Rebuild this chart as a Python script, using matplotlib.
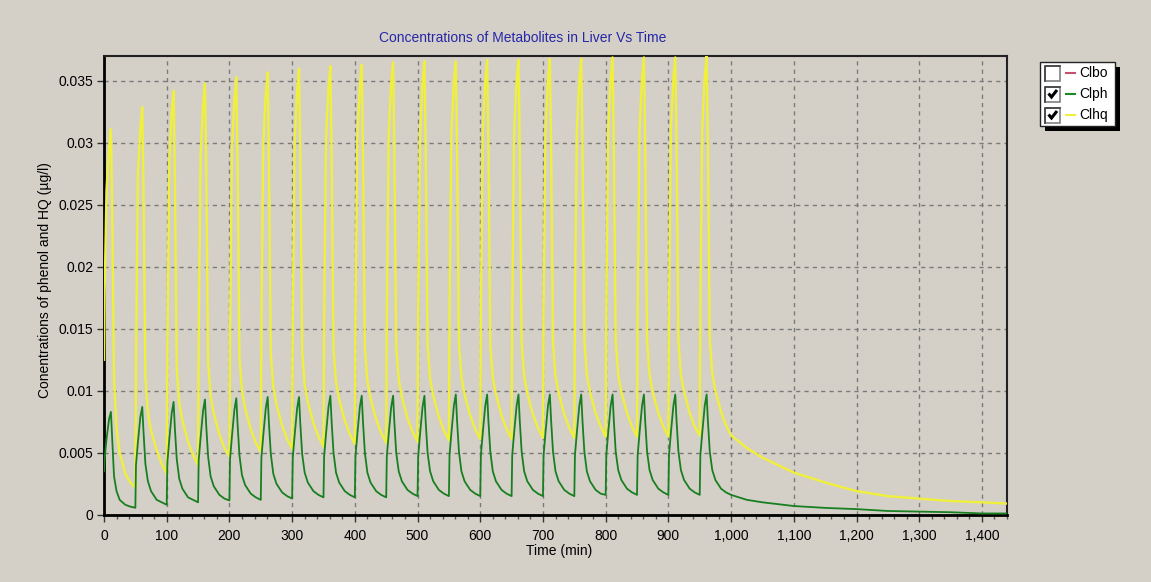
import matplotlib
matplotlib.use("Agg")
import matplotlib.pyplot as plt
import numpy as np
from matplotlib.patches import Rectangle
from matplotlib.ticker import MultipleLocator, FuncFormatter

plt.rcParams['font.family'] = ['Liberation Sans', 'DejaVu Sans']

# ---- data -----------------------------------------------------------
# dose times (min); each cycle sampled at the offsets below
dose_times = [0, 50, 100, 150, 200, 250, 300, 350, 400, 450,
              500, 550, 600, 650, 700, 750, 800, 850, 900, 950]
cycle_offsets = [0, 1, 4, 8, 11, 13, 16, 20, 25, 34, 42]

# Clhq (hydroquinone) per dosing cycle, at cycle_offsets
clhq_cycles = [
    [0.0125, 0.0180, 0.0262, 0.0295, 0.0311, 0.0250, 0.0109, 0.0070, 0.0050, 0.0033, 0.0026],
    [0.0022, 0.0120, 0.0275, 0.0312, 0.0329, 0.0265, 0.0112, 0.0082, 0.0068, 0.0052, 0.0041],
    [0.0033, 0.0130, 0.0283, 0.0325, 0.0342, 0.0275, 0.0118, 0.0090, 0.0076, 0.0059, 0.0048],
    [0.0040, 0.0140, 0.0290, 0.0330, 0.0348, 0.0280, 0.0123, 0.0096, 0.0082, 0.0065, 0.0054],
    [0.0047, 0.0145, 0.0295, 0.0335, 0.0353, 0.0285, 0.0127, 0.0100, 0.0086, 0.0069, 0.0058],
    [0.0051, 0.0150, 0.0300, 0.0340, 0.0357, 0.0288, 0.0130, 0.0103, 0.0089, 0.0072, 0.0061],
    [0.0053, 0.0155, 0.0300, 0.0342, 0.0360, 0.0290, 0.0132, 0.0105, 0.0091, 0.0074, 0.0063],
    [0.0055, 0.0155, 0.0303, 0.0345, 0.0362, 0.0292, 0.0134, 0.0107, 0.0093, 0.0076, 0.0065],
    [0.0057, 0.0160, 0.0305, 0.0346, 0.0363, 0.0293, 0.0135, 0.0108, 0.0094, 0.0077, 0.0066],
    [0.0058, 0.0160, 0.0307, 0.0348, 0.0365, 0.0295, 0.0136, 0.0109, 0.0095, 0.0078, 0.0067],
    [0.0059, 0.0160, 0.0308, 0.0349, 0.0366, 0.0296, 0.0137, 0.0110, 0.0096, 0.0079, 0.0068],
    [0.0060, 0.0160, 0.0308, 0.0349, 0.0366, 0.0296, 0.0138, 0.0111, 0.0097, 0.0080, 0.0069],
    [0.0061, 0.0165, 0.0309, 0.0350, 0.0367, 0.0297, 0.0138, 0.0111, 0.0097, 0.0080, 0.0069],
    [0.0061, 0.0165, 0.0309, 0.0350, 0.0367, 0.0297, 0.0139, 0.0112, 0.0098, 0.0081, 0.0070],
    [0.0062, 0.0165, 0.0310, 0.0351, 0.0368, 0.0298, 0.0139, 0.0112, 0.0098, 0.0081, 0.0070],
    [0.0062, 0.0165, 0.0310, 0.0351, 0.0368, 0.0298, 0.0140, 0.0113, 0.0099, 0.0082, 0.0071],
    [0.0063, 0.0165, 0.0311, 0.0352, 0.0369, 0.0299, 0.0140, 0.0113, 0.0099, 0.0082, 0.0071],
    [0.0063, 0.0165, 0.0311, 0.0352, 0.0369, 0.0299, 0.0140, 0.0113, 0.0099, 0.0082, 0.0071],
    [0.0063, 0.0165, 0.0311, 0.0352, 0.0369, 0.0299, 0.0140, 0.0113, 0.0099, 0.0082, 0.0071],
    [0.0064, 0.0170, 0.0312, 0.0353, 0.0370, 0.0300, 0.0141, 0.0114, 0.0100, 0.0083, 0.0072],
]

# Clph (phenol) per dosing cycle, at cycle_offsets
clph_cycles = [
    [0.0035, 0.0045, 0.0061, 0.0077, 0.0083, 0.0062, 0.0031, 0.0019, 0.0012, 0.0008, 0.00065],
    [0.00056, 0.0040, 0.0058, 0.0079, 0.0087, 0.0067, 0.0041, 0.0027, 0.0019, 0.0012, 0.0010],
    [0.0008, 0.0042, 0.0060, 0.0082, 0.0091, 0.0070, 0.0045, 0.0029, 0.0021, 0.0014, 0.0012],
    [0.0010, 0.0044, 0.0062, 0.0084, 0.0093, 0.0072, 0.0047, 0.0031, 0.0023, 0.0016, 0.0013],
    [0.00115, 0.0045, 0.0063, 0.0085, 0.0094, 0.0073, 0.0048, 0.0032, 0.0024, 0.0017, 0.0014],
    [0.0012, 0.0046, 0.0064, 0.0086, 0.0095, 0.0074, 0.0049, 0.0033, 0.0025, 0.0018, 0.0015],
    [0.0013, 0.0046, 0.0064, 0.0086, 0.0095, 0.0074, 0.0049, 0.0034, 0.0026, 0.0019, 0.0016],
    [0.0014, 0.0047, 0.0065, 0.0087, 0.0096, 0.0075, 0.0050, 0.0034, 0.0026, 0.0019, 0.0016],
    [0.0014, 0.0047, 0.0065, 0.0087, 0.0096, 0.0075, 0.0050, 0.0034, 0.0026, 0.0019, 0.0016],
    [0.0014, 0.0047, 0.0065, 0.0087, 0.0096, 0.0075, 0.0050, 0.0035, 0.0027, 0.0020, 0.0017],
    [0.0015, 0.0047, 0.0065, 0.0087, 0.0096, 0.0075, 0.0050, 0.0035, 0.0027, 0.0020, 0.0017],
    [0.0015, 0.0048, 0.0066, 0.0088, 0.0097, 0.0076, 0.0051, 0.0035, 0.0027, 0.0020, 0.0017],
    [0.0015, 0.0048, 0.0066, 0.0088, 0.0097, 0.0076, 0.0051, 0.0035, 0.0027, 0.0020, 0.0017],
    [0.0015, 0.0048, 0.0066, 0.0088, 0.0097, 0.0076, 0.0051, 0.0035, 0.0027, 0.0020, 0.0017],
    [0.0015, 0.0048, 0.0066, 0.0088, 0.0097, 0.0076, 0.0051, 0.0035, 0.0027, 0.0020, 0.0017],
    [0.0015, 0.0048, 0.0066, 0.0088, 0.0097, 0.0076, 0.0051, 0.0035, 0.0027, 0.0020, 0.0017],
    [0.0016, 0.0048, 0.0066, 0.0088, 0.0097, 0.0076, 0.0051, 0.0036, 0.0028, 0.0021, 0.0018],
    [0.0016, 0.0048, 0.0066, 0.0088, 0.0097, 0.0076, 0.0051, 0.0036, 0.0028, 0.0021, 0.0018],
    [0.0016, 0.0048, 0.0066, 0.0088, 0.0097, 0.0076, 0.0051, 0.0036, 0.0028, 0.0021, 0.0018],
    [0.0016, 0.0048, 0.0066, 0.0088, 0.0097, 0.0076, 0.0051, 0.0036, 0.0028, 0.0021, 0.0018],
]

# washout after the last dose
tail_time = [1000, 1025, 1050, 1100, 1150, 1200, 1250, 1300, 1350, 1400, 1440]
clhq_tail = [0.0064, 0.0054, 0.0046, 0.0034, 0.0026, 0.0019, 0.0015, 0.0013, 0.0011, 0.0010, 0.0009]
clph_tail = [0.0016, 0.0012, 0.0010, 0.0007, 0.00055, 0.00045, 0.0003, 0.00025, 0.0002, 0.0001, 0.0001]

x_ticks = [0, 100, 200, 300, 400, 500, 600, 700, 800, 900, 1000, 1100, 1200, 1300, 1400]
y_ticks = [0, 0.005, 0.01, 0.015, 0.02, 0.025, 0.03, 0.035]

legend_names = ["Clbo", "Clph", "Clhq"]
legend_colors = ["#C8506E", "#1C8A24", "#F0F03C"]
legend_checked = [False, True, True]

# ---- assemble series -------------------------------------------------
def build(cycles, tail_vals):
    t, v = [], []
    for d, row in zip(dose_times, cycles):
        for off, val in zip(cycle_offsets, row):
            t.append(d + off)
            v.append(val)
    t.extend(tail_time)
    v.extend(tail_vals)
    return np.array(t), np.array(v)

t_hq, v_hq = build(clhq_cycles, clhq_tail)
t_ph, v_ph = build(clph_cycles, clph_tail)

# ---- figure ---------------------------------------------------------
W, H = 1151, 582
BG = "#D4D0C8"
fig = plt.figure(figsize=(W / 100, H / 100), dpi=100, facecolor=BG)

left, right, top, bottom = 104, 1007, 55.7, 514.7
ax = fig.add_axes([left / W, 1 - bottom / H, (right - left) / W, (bottom - top) / H])
ax.set_facecolor(BG)

ax.plot(t_hq, v_hq, color="#F0F03C", lw=1.7, zorder=3)
ax.plot(t_ph, v_ph, color="#187F20", lw=1.3, zorder=4)

ax.set_xlim(0, 1440)
ax.set_ylim(0, 0.03704)
ax.set_xticks(x_ticks)
ax.set_yticks(y_ticks)
ax.xaxis.set_minor_locator(MultipleLocator(20))
ax.xaxis.set_major_formatter(FuncFormatter(lambda x, p: f"{x:,.0f}"))
ax.yaxis.set_major_formatter(FuncFormatter(lambda y, p: f"{y:g}"))

ax.grid(True, which="major", color="#7A7A7A", linestyle=(0, (3, 3)), lw=1.0)
ax.tick_params(axis="both", which="major", direction="out", length=5, width=1,
               color="#333333", labelsize=10)
ax.tick_params(axis="x", which="major", pad=5)
ax.tick_params(axis="y", which="major", pad=2.5)
ax.tick_params(axis="x", which="minor", direction="out", length=3, width=1, color="#555555")
for side in ["left", "bottom"]:
    ax.spines[side].set_linewidth(2.0)
    ax.spines[side].set_color("black")
for side in ["top", "right"]:
    ax.spines[side].set_linewidth(1.5)
    ax.spines[side].set_color("#222222")

fig.text(523 / W, 1 - 38 / H, "Concentrations of Metabolites in Liver Vs Time",
         ha="center", va="center", fontsize=10, color="#2626A8")
fig.text(559 / W, 1 - 551 / H, "Time (min)", ha="center", va="center", fontsize=10)
fig.text(45 / W, 1 - 280 / H, "Conentrations of phenol and HQ (\u00b5g/l)",
         ha="center", va="center", rotation=90, fontsize=10)

# ---- legend panel with check boxes -----------------------------------
ov = fig.add_axes([0, 0, 1, 1], zorder=10)
ov.set_xlim(0, W)
ov.set_ylim(H, 0)
ov.axis("off")
ov.patch.set_alpha(0)

bx0, by0, bx1, by1 = 1040, 62, 1115, 126
ov.add_patch(Rectangle((bx0 + 5, by0 + 5), bx1 - bx0, by1 - by0, facecolor="black", edgecolor="none"))
ov.add_patch(Rectangle((bx0, by0), bx1 - bx0, by1 - by0, facecolor="white", edgecolor="#222222", lw=1))

row_y = [73, 94, 115]
for name, col, chk, ry in zip(legend_names, legend_colors, legend_checked, row_y):
    ov.add_patch(Rectangle((1045, ry - 7.5), 15, 15, facecolor="white", edgecolor="#808080", lw=1.2))
    ov.plot([1045, 1045, 1060], [ry + 7.5, ry - 7.5, ry - 7.5], color="#404040", lw=1.2)
    if chk:
        ov.plot([1048.5, 1051.5, 1057], [ry - 0.5, ry + 3, ry - 4], color="black", lw=2.2,
                solid_capstyle="butt", solid_joinstyle="miter")
    ov.plot([1066, 1075], [ry, ry], color=col, lw=1.5)
    ov.text(1079, ry, name, ha="left", va="center", fontsize=10, color="black")

fig.savefig("out.png", dpi=100, facecolor=BG)
